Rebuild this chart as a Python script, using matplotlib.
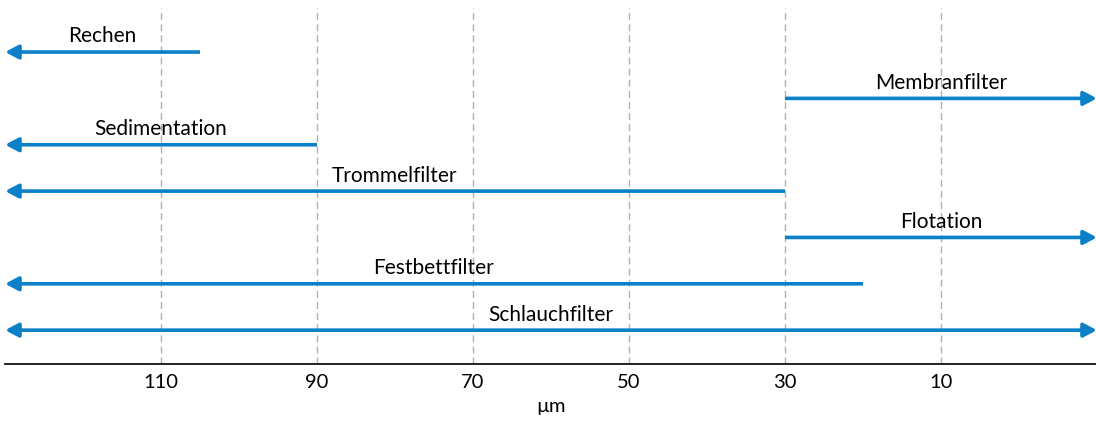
import matplotlib.pyplot as plt

names = ["Rechen", "Membranfilter", "Sedimentation", "Trommelfilter",
         "Flotation", "Festbettfilter", "Schlauchfilter"]
starts = [105, 30, 90, 30, 30, 20, 130]
ends = [130, -10, 130, 130, -10, 130, -10]
both_ways = [False, False, False, False, False, False, True]

ticks = [110, 90, 70, 50, 30, 10]
x_min, x_max = 130, -10

blue = "#0a80c8"

plt.rcParams['font.family'] = ['Lato', 'DejaVu Sans']

fig = plt.figure(figsize=(10.96, 4.24), dpi=100)
ax = fig.add_axes([5 / 1096, 60 / 424, 1092 / 1096, 356 / 424])

for i, (name, s, e, bw) in enumerate(zip(names, starts, ends, both_ways)):
    style = "<|-|>" if bw else "-|>"
    ax.annotate("", xy=(e, i), xytext=(s, i),
                arrowprops=dict(arrowstyle=style + ",head_length=0.8,head_width=0.42",
                                color=blue, lw=2.6, shrinkA=0, shrinkB=0,
                                capstyle="butt"))
    ax.text((s + e) / 2, i - 0.12, name, ha="center", va="bottom", fontsize=15)

for t in ticks:
    ax.axvline(t, color="#b0b0b0", lw=1.0, ls=(0, (5, 3)), zorder=0)

ax.set_xlim(x_min, x_max)
ax.set_ylim(6.73, -0.95)
ax.set_xticks(ticks)
ax.tick_params(axis="x", length=0, labelsize=14.5, pad=7)
ax.set_yticks([])
for sp in ["top", "left", "right"]:
    ax.spines[sp].set_visible(False)
ax.spines["bottom"].set_linewidth(1.2)
ax.set_xlabel("µm", fontsize=14.5, labelpad=5)

fig.savefig("out.png", dpi=100)
